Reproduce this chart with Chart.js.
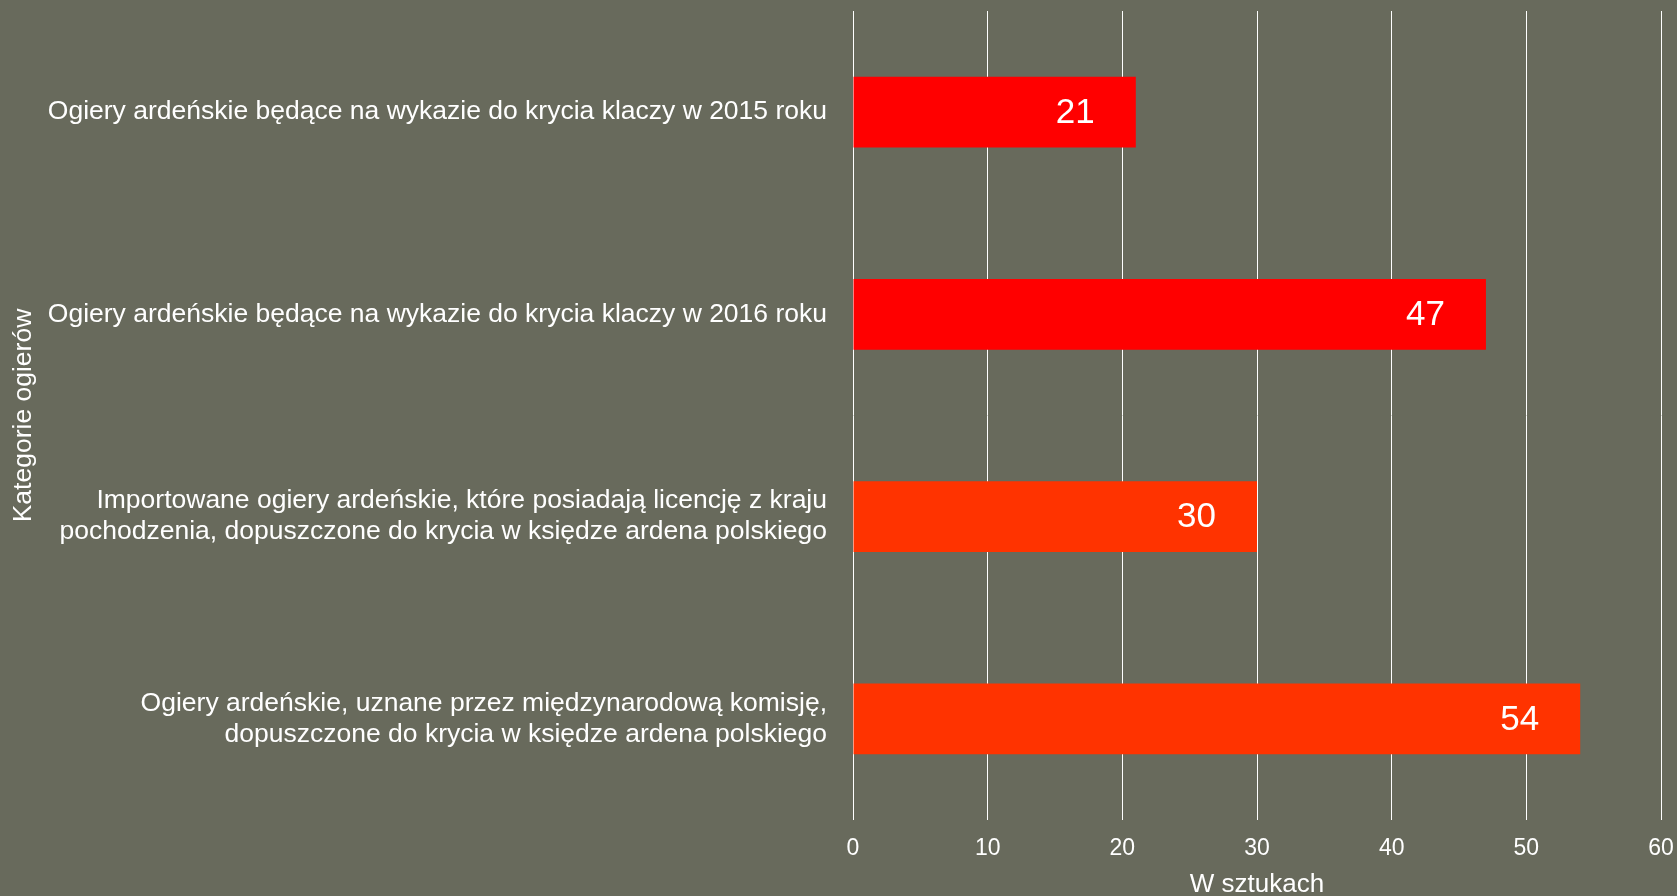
<!DOCTYPE html>
<html>
<head>
<meta charset="utf-8">
<script src="https://cdn.jsdelivr.net/npm/chart.js@4"></script>
<style>
  html, body { margin: 0; padding: 0; background: #686A5C; }
  #wrap { width: 1677px; height: 896px; position: relative; }
</style>
</head>
<body>
<div id="wrap"><canvas id="c" width="1677" height="896"></canvas></div>
<script>
const categories = [
  ["Ogiery ardeńskie będące na wykazie do krycia klaczy w 2015 roku"],
  ["Ogiery ardeńskie będące na wykazie do krycia klaczy w 2016 roku"],
  ["Importowane ogiery ardeńskie, które posiadają licencję z kraju", "pochodzenia, dopuszczone do krycia w księdze ardena polskiego"],
  ["Ogiery ardeńskie, uznane przez międzynarodową komisję,", "dopuszczone do krycia w księdze ardena polskiego"]
];
const values = [21, 47, 30, 54];
const barColors = ["#FF0000", "#FF0000", "#FF3300", "#FF3300"];
const xTicks = [0, 10, 20, 30, 40, 50, 60];
const xTitle = "W sztukach";
const yTitle = "Kategorie ogierów";

const FONT = "'Liberation Sans', Arial, sans-serif";

const valueLabels = {
  id: 'valueLabels',
  afterDatasetsDraw(chart) {
    const ctx = chart.ctx;
    const meta = chart.getDatasetMeta(0);
    ctx.save();
    ctx.fillStyle = '#FFFFFF';
    ctx.font = "35px " + FONT;
    ctx.textAlign = 'right';
    ctx.textBaseline = 'middle';
    meta.data.forEach((bar, i) => {
      ctx.fillText(String(values[i]), bar.x - 41, bar.y + 1);
    });
    ctx.restore();
  }
};

const bgPlugin = {
  id: 'bg',
  beforeDraw(chart) {
    const ctx = chart.ctx;
    ctx.save();
    ctx.fillStyle = '#686A5C';
    ctx.fillRect(0, 0, chart.width, chart.height);
    ctx.restore();
  }
};

new Chart(document.getElementById('c'), {
  type: 'bar',
  data: {
    labels: categories,
    datasets: [{
      data: values,
      backgroundColor: barColors,
      borderWidth: 0,
      barPercentage: 0.7,
      categoryPercentage: 0.5
    }]
  },
  options: {
    indexAxis: 'y',
    responsive: false,
    animation: false,
    devicePixelRatio: 1,
    layout: { padding: { left: 5, right: 16, top: 11, bottom: -4 } },
    plugins: {
      legend: { display: false },
      tooltip: { enabled: false },
      title: { display: false }
    },
    scales: {
      x: {
        type: 'linear',
        min: 0,
        max: 60,
        afterBuildTicks(scale) { scale.ticks = xTicks.map(v => ({ value: v })); },
        afterFit(scale) {
          scale.height = 80;
          scale.paddingLeft = 0;
          scale.paddingRight = 0;
        },
        border: { display: false },
        grid: { color: '#FFFFFF', lineWidth: 1, drawTicks: false },
        ticks: {
          color: '#FFFFFF',
          font: { family: FONT, size: 23 },
          padding: 15,
          maxRotation: 0
        },
        title: {
          display: true,
          text: xTitle,
          color: '#FFFFFF',
          font: { family: FONT, size: 26 },
          padding: { top: 0, bottom: 0 }
        }
      },
      y: {
        afterFit(scale) {
          scale.width = 848;
          scale.paddingTop = 0;
          scale.paddingBottom = 0;
        },
        border: { display: false },
        grid: { display: false, drawTicks: false },
        ticks: {
          color: '#FFFFFF',
          font: { family: FONT, size: 26.5, lineHeight: 1.17 },
          padding: 26
        },
        title: {
          display: true,
          text: yTitle,
          color: '#FFFFFF',
          font: { family: FONT, size: 26.5 },
          padding: { top: 3, bottom: 3 }
        }
      }
    }
  },
  plugins: [bgPlugin, valueLabels]
});
</script>
</body>
</html>
